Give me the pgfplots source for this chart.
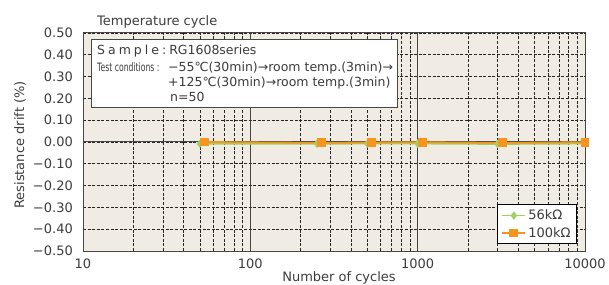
\documentclass[border=0pt]{standalone}
\usepackage{fontspec}
\setmainfont{DejaVu Sans}
\usepackage{graphicx}
\usepackage{pgfplots}
\pgfplotsset{compat=1.18}
\definecolor{bg}{RGB}{240,236,227}
\definecolor{gr}{RGB}{158,208,102}
\definecolor{orn}{RGB}{247,148,30}
\definecolor{txt}{RGB}{60,60,60}
\definecolor{frm}{RGB}{70,70,70}
\begin{document}
\begin{tikzpicture}
\useasboundingbox (-83pt,-33pt) rectangle (526pt,251pt);
\begin{axis}[
  at={(0pt,0pt)}, anchor=south west,
  scale only axis, width=502pt, height=218pt,
  xmode=log, xmin=10, xmax=10000,
  ymin=-0.5, ymax=0.5,
  clip=false,
  axis background/.style={fill=bg},
  axis line style={frm, line width=1pt},
  font=\fontsize{13}{15}\selectfont\color{txt},
  xtick={10,100,1000,10000},
  xticklabels={10,100,1000,10000},
  minor xtick={20,30,40,50,60,70,80,90,200,300,400,500,600,700,800,900,2000,3000,4000,5000,6000,7000,8000,9000},
  ytick={-0.5,-0.4,-0.3,-0.2,-0.1,0,0.1,0.2,0.3,0.4,0.5},
  yticklabels={−0.50,−0.40,−0.30,−0.20,−0.10,0.00,0.10,0.20,0.30,0.40,0.50},
  major tick length=0pt, minor tick length=0pt,
  yticklabel style={anchor=east, inner sep=0pt, xshift=-10pt},
  xticklabel style={anchor=north, inner sep=0pt, yshift=-8pt},
  grid=both,
  major grid style={black!85, line width=0.6pt, dash pattern=on 3pt off 1.6pt},
  minor grid style={black!85, line width=0.6pt, dash pattern=on 3pt off 1.6pt},
  extra x ticks={100,1000}, extra x tick labels={},
  extra x tick style={grid=major, major grid style={solid, frm, line width=1.1pt}},
  extra y ticks={0}, extra y tick labels={},
  extra y tick style={grid=major, major grid style={solid, frm, line width=1pt}},
  legend style={at={(rel axis cs:0.984,0.032)}, anchor=south east, draw=black, fill=white,
    line width=0.8pt, font=\fontsize{13}{14}\selectfont\color{txt}, inner xsep=4pt, inner ysep=3pt, row sep=2pt,
    cells={anchor=west}},
  legend image code/.code={\draw[mark repeat=2,mark phase=2] plot coordinates {(0pt,0pt)(11.5pt,0pt)(23pt,0pt)};},
]
\addplot[gr, line width=1.8pt, mark=diamond*, mark size=2.8pt, mark options={solid}]
  coordinates {(50,-0.008)(250,-0.008)(500,-0.007)(1000,-0.007)(3000,-0.009)(10000,-0.007)};
\addlegendentry{56kΩ}
\addplot[orn, line width=1.8pt, mark=square*, mark size=3.5pt, mark options={solid}]
  coordinates {(53.5,0)(267,-0.004)(531,-0.002)(1072,-0.001)(3216,-0.004)(10000,-0.001)};
\addlegendentry{100kΩ}
\end{axis}
% annotation box
\draw[frm, line width=0.9pt, fill=white] (8pt,144pt) rectangle (314pt,212pt);
\begin{scope}[every node/.style={inner sep=0pt, text=txt, font=\fontsize{12.5}{14}\selectfont}]
\node[anchor=base west] at (14pt,196pt) {S\kern3pt a\kern3pt m\kern3pt p\kern3pt l\kern3pt e\kern3pt :\kern3pt RG1608series};
\node[anchor=base west] at (14pt,179pt) {\fontsize{11.5}{13}\selectfont\scalebox{0.67}[1]{Test conditions :}};
\node[anchor=base west] at (85pt,179pt) {−55℃(30min)→room temp.(3min)→};
\node[anchor=base west] at (85pt,164pt) {+125℃(30min)→room temp.(3min)};
\node[anchor=base west] at (87pt,149pt) {n=50};
\end{scope}
\node[anchor=base west, inner sep=0pt, text=txt, font=\fontsize{13}{15}\selectfont] at (14pt,225pt) {Temperature cycle};
\node[inner sep=0pt, text=txt, font=\fontsize{13}{15}\selectfont] at (256pt,-27pt) {Number of cycles};
\node[inner sep=0pt, text=txt, rotate=90, font=\fontsize{13}{15}\selectfont] at (-63pt,106pt) {Resistance drift (\%)};
\end{tikzpicture}
\end{document}
